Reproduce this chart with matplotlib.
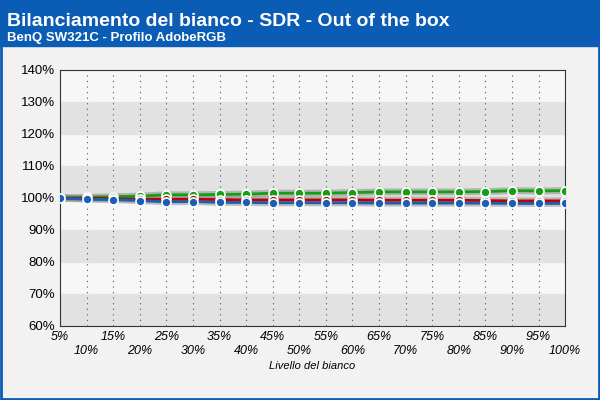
import numpy as np
import matplotlib.pyplot as plt

levels = [f"{p}%" for p in range(5, 105, 5)]
green = [100, 100.2, 100.4, 100.6, 101, 101, 101.1, 101.2, 101.5, 101.5,
         101.5, 101.7, 101.9, 101.9, 101.9, 101.9, 102, 102.3, 102.2, 102.3]
red = [100, 99.9, 99.8, 99.6, 99.6, 99.6, 99.5, 99.4, 99.4, 99.4,
       99.4, 99.4, 99.3, 99.3, 99.3, 99.3, 99.2, 99.1, 99.1, 99.1]
blue = [100, 99.6, 99.5, 99.2, 98.8, 98.9, 98.6, 98.6, 98.5, 98.5,
        98.5, 98.5, 98.4, 98.4, 98.4, 98.4, 98.4, 98.3, 98.3, 98.3]
y_ticks = list(range(60, 150, 10))

fig = plt.figure(figsize=(6, 4), dpi=100)
fig.patch.set_facecolor("#f2f2f2")
fig.patches.append(plt.Rectangle((0, 0.885), 1, 0.115, transform=fig.transFigure,
                                 color="#0a5cb4", zorder=0))
fig.patches.append(plt.Rectangle((0.002, 0.002), 0.996, 0.996, transform=fig.transFigure,
                                 fill=False, ec="#0a5cb4", lw=2, zorder=5))
fig.text(0.012, 0.935, "Bilanciamento del bianco - SDR - Out of the box", color="white",
         fontsize=14, fontweight="bold", family="Liberation Sans")
fig.text(0.012, 0.897, "BenQ SW321C - Profilo AdobeRGB", color="white",
         fontsize=9.5, fontweight="bold", family="Liberation Sans")

ax = fig.add_axes([0.1, 0.185, 0.842, 0.64])
ax.set_facecolor("#f7f7f7")
x = np.arange(len(levels))
for i, lo in enumerate(y_ticks[:-1]):
    if i % 2 == 0:
        ax.axhspan(lo, lo + 10, color="#e2e2e2", zorder=0)
for xi in x[1:-1]:
    ax.axvline(xi, color="#555555", ls=(0, (1, 4)), lw=0.8, zorder=1)

for vals, c in [(green, "#10a010"), (red, "#c00000"), (blue, "#1a5fb4")]:
    ax.plot(x, vals, color="#888888", lw=5, alpha=0.5, zorder=2)
    ax.plot(x, vals, color=c, lw=2, marker="o", ms=6.5, mec="white", mew=1.2, zorder=3)

ax.set_xlim(0, len(levels) - 1)
ax.set_ylim(60, 140)
ax.set_yticks(y_ticks)
ax.set_yticklabels([f"{v}%" for v in y_ticks], fontsize=9.5, family="Liberation Sans")
ax.set_xticks(x)
ax.set_xticklabels([l if i % 2 == 0 else "\n" + l for i, l in enumerate(levels)],
                   fontsize=9, family="Liberation Sans", style="italic")
ax.tick_params(length=0)
ax.set_xlabel("Livello del bianco", fontsize=8, style="italic", family="Liberation Sans", labelpad=3)
for s in ax.spines.values():
    s.set_color("#333333")

fig.savefig("out.png", dpi=100, facecolor=fig.get_facecolor())
